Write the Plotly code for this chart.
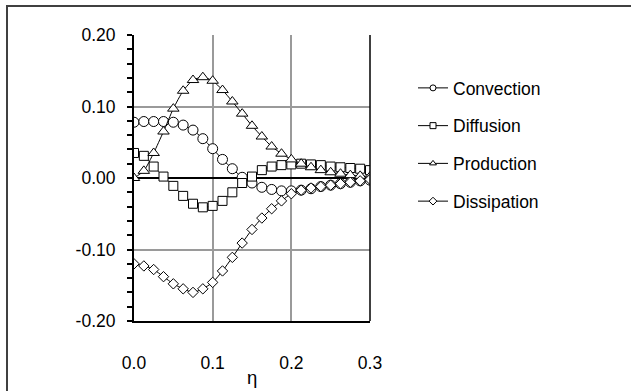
import plotly.graph_objects as go

eta = [0.0, 0.0125, 0.025, 0.0375, 0.05, 0.0625, 0.075, 0.0875, 0.1, 0.1125,
       0.125, 0.1375, 0.15, 0.1625, 0.175, 0.1875, 0.2, 0.2125, 0.225, 0.2375,
       0.25, 0.2625, 0.275, 0.2875, 0.3]

convection = [0.078, 0.079, 0.079, 0.079, 0.078, 0.074, 0.067, 0.055, 0.041, 0.026,
              0.013, 0.001, -0.007, -0.013, -0.016, -0.018, -0.018, -0.017, -0.015, -0.012,
              -0.010, -0.008, -0.006, -0.004, -0.003]

diffusion = [0.035, 0.031, 0.016, 0.002, -0.011, -0.025, -0.036, -0.041, -0.039, -0.032,
             -0.020, -0.007, 0.002, 0.011, 0.016, 0.018, 0.019, 0.020, 0.019, 0.018,
             0.016, 0.015, 0.014, 0.013, 0.011]

production = [0.000, 0.010, 0.035, 0.065, 0.097, 0.122, 0.137, 0.141, 0.136, 0.123,
              0.107, 0.090, 0.073, 0.058, 0.044, 0.034, 0.026, 0.020, 0.015, 0.011,
              0.008, 0.006, 0.004, 0.003, 0.002]

dissipation = [-0.120, -0.123, -0.128, -0.138, -0.148, -0.155, -0.160, -0.155, -0.146, -0.130,
               -0.111, -0.091, -0.072, -0.056, -0.043, -0.032, -0.022, -0.017, -0.014, -0.012,
               -0.010, -0.008, -0.006, -0.004, -0.002]

series_names = ["Convection", "Diffusion", "Production", "Dissipation"]
series_values = [convection, diffusion, production, dissipation]
symbols = ["circle", "square", "triangle-up", "diamond"]
plot_sizes = [10, 9, 10, 8]

x_tickvals = [0.0, 0.1, 0.2, 0.3]
x_ticktext = ["0.0", "0.1", "0.2", "0.3"]
y_tickvals = [-0.2, -0.1, 0.0, 0.1, 0.2]
y_ticktext = ["-0.20", "-0.10", "0.00", "0.10", "0.20"]
x_title = "η"

FONT = "Liberation Sans, Arial, sans-serif"
FS = 17.5
W, H = 631, 391

fig = go.Figure()
for name, vals, sym, sz in zip(series_names, series_values, symbols, plot_sizes):
    fig.add_trace(go.Scatter(
        x=eta, y=vals, mode="lines+markers", name=name, showlegend=False,
        line=dict(color="black", width=1, shape="spline", smoothing=0.6),
        marker=dict(symbol=sym, size=sz, color="white",
                    line=dict(color="black", width=1)),
    ))
for name, sym in zip(series_names, symbols):
    fig.add_trace(go.Scatter(
        x=[None], y=[None], mode="lines+markers", name=name, legendgroup=name,
        line=dict(color="black", width=1),
        marker=dict(symbol=sym, size=6, color="white",
                    line=dict(color="black", width=1)),
    ))

fig.update_layout(
    width=W, height=H,
    margin=dict(l=0, r=0, t=0, b=0),
    paper_bgcolor="white", plot_bgcolor="white",
    font=dict(family=FONT, size=FS, color="black"),
    legend=dict(x=413 / W, y=1 - 70 / H, xanchor="left", yanchor="top",
                traceorder="grouped", tracegroupgap=12,
                font=dict(family=FONT, size=FS, color="black"),
                bgcolor="rgba(0,0,0,0)"),
    xaxis=dict(domain=[134 / W, 370 / W], range=[0, 0.3], automargin=False,
               tickvals=x_tickvals, ticktext=x_ticktext, ticks="",
               ticklabelstandoff=25,
               showgrid=True, gridcolor="#9a9a9a", gridwidth=1.5,
               zeroline=False, showline=True, linecolor="black", linewidth=2),
    yaxis=dict(domain=[1 - 321 / H, 1 - 35 / H], range=[-0.2, 0.2], automargin=False,
               tickvals=y_tickvals, ticktext=y_ticktext,
               ticks="outside", ticklen=5, tickcolor="black", tickwidth=1.5,
               ticklabelstandoff=8,
               minor=dict(tickmode="linear", tick0=0, dtick=0.02, ticks="outside",
                          ticklen=5, tickcolor="black", tickwidth=1.5, showgrid=False),
               showgrid=True, gridcolor="#9a9a9a", gridwidth=1.5,
               zeroline=True, zerolinecolor="black", zerolinewidth=1.5,
               showline=True, linecolor="black", linewidth=2),
    annotations=[dict(text=x_title, xref="x domain", x=0.5, yref="paper",
                      y=1 - 377 / H, xanchor="center", yanchor="middle",
                      showarrow=False, font=dict(family=FONT, size=FS + 1))],
    shapes=[
        dict(type="line", xref="x domain", yref="y domain", x0=1, x1=1, y0=0, y1=1,
             line=dict(color="black", width=1.5)),
        dict(type="rect", xref="paper", yref="paper", x0=7 / W, x1=1.05,
             y0=-0.05, y1=1 - 6 / H, line=dict(color="#404040", width=2)),
    ],
)

fig.write_html("out.html")
